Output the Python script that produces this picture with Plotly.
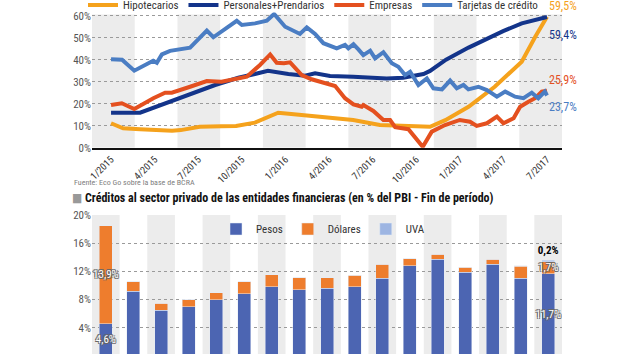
import plotly.graph_objects as go

FONT = "Liberation Sans Narrow, Roboto Condensed, DejaVu Sans Condensed, Arial Narrow, sans-serif"

# ---------------- Top chart data (x = months since 1/2015) ----------------
month_ticks = [0, 3, 6, 9, 12, 15, 18, 21, 24, 27, 30]
month_labels = ["1/2015", "4/2015", "7/2015", "10/2015", "1/2016", "4/2016",
                "7/2016", "10/2016", "1/2017", "4/2017", "7/2017"]

hip_x = [0, 0.83, 2.0, 4.2, 4.8, 6.1, 7.6, 8.6, 9.9, 11.5, 12.4, 14.0, 16.66, 18.5,
         20.1, 21.95, 23.0, 24.6, 26.4, 28.26, 29.2, 30]
hip_y = [11.1, 8.8, 8.4, 7.7, 8.0, 9.5, 9.7, 9.9, 11.4, 15.9, 15.3, 14.4, 12.6, 10.3,
         9.9, 9.5, 12.5, 18.6, 27.7, 39.1, 50.5, 59.5]

per_x = [0, 2.0, 7.16, 7.6, 8.76, 9.9, 10.8, 12.2, 13.35, 14.04, 15.07, 16.66, 18.97,
         20.1, 21.5, 21.95, 23.05, 24.6, 26.98, 28.26, 30]
per_y = [15.9, 15.9, 28.5, 29.5, 31.8, 33.5, 35.0, 33.5, 32.7, 33.8, 32.6, 32.3, 31.5,
         31.8, 33.5, 34.9, 40.0, 45.5, 53.0, 56.5, 59.4]

emp_x = [0, 0.74, 1.6, 2.91, 3.72, 4.18, 5.44, 6.59, 7.6, 8.76, 9.34, 10.25, 10.95,
         11.4, 11.9, 12.32, 13.12, 13.8, 14.5, 15.07, 15.42, 16.1, 16.68, 17.25, 17.36,
         18.05, 18.74, 19.2, 19.55, 20.46, 21.45, 22.07, 22.98, 24.0, 24.7, 25.16,
         25.86, 26.55, 27.0, 27.7, 28.15, 28.72, 29.18, 29.64, 30]
emp_y = [19.4, 20.2, 17.6, 22.5, 25.0, 25.0, 27.7, 30.3, 30.0, 31.5, 32.3, 37.6, 42.4,
         38.6, 38.4, 38.8, 33.0, 31.1, 29.7, 28.5, 28.0, 22.5, 19.7, 18.6, 19.4,
         16.7, 12.6, 12.6, 9.3, 8.4, 0.4, 7.3, 10.3, 12.6, 11.8, 9.9,
         11.1, 14.1, 11.1, 13.4, 18.6, 20.9, 22.5, 25.5, 25.9]

tar_x = [0, 0.76, 1.6, 2.9, 3.15, 3.5, 4.06, 5.44, 6.59, 7.04, 8.65, 9.0, 9.91, 10.72,
         11.22, 11.98, 13.0, 13.47, 14.04, 14.61, 15.53, 16.1, 16.33, 16.68, 17.02,
         17.36, 17.83, 18.17, 18.74, 19.32, 19.77, 20.23, 20.58, 21.15, 21.73, 22.18,
         22.77, 23.33, 23.79, 24.25, 24.59, 25.28, 25.86, 26.55, 27.12, 27.8, 28.38,
         28.95, 29.4, 29.85, 30]
tar_y = [40.2, 40.0, 35.0, 39.5, 38.6, 42.4, 44.0, 45.5, 53.2, 50.2, 57.7, 55.8, 56.5,
         57.7, 60.8, 55.0, 51.7, 54.7, 51.7, 47.5, 45.2, 46.7, 45.2, 47.0, 44.7,
         42.1, 44.1, 40.6, 43.4, 38.4, 36.8, 33.0, 34.5, 28.5, 31.5, 27.0,
         26.5, 30.5, 27.0, 28.5, 26.5, 27.7, 26.2, 23.2, 25.5, 23.2, 22.5,
         25.0, 22.5, 25.5, 23.7]

# ---------------- Bottom chart data ----------------
bar_cats = ["2001", "2002", "2003", "2004", "2005", "2006", "2007", "2008", "2009",
            "2010", "2011", "2012", "2013", "2014", "2015", "2016", "Jul-17"]
pesos = [4.6, 9.2, 6.5, 7.0, 8.0, 8.8, 9.8, 9.4, 9.6, 9.8, 11.0, 12.8, 13.7, 11.9, 13.0, 11.0, 11.7]
dolares = [13.9, 1.3, 1.0, 1.0, 1.0, 1.7, 1.7, 1.7, 1.5, 1.65, 2.0, 1.0, 0.7, 0.7, 0.7, 1.7, 1.7]
uva = [0, 0, 0, 0, 0, 0, 0, 0, 0, 0, 0, 0, 0, 0, 0, 0.1, 0.2]

C_HIP = "#F5A21C"
C_PER = "#13348A"
C_EMP = "#E4501F"
C_TAR = "#4A7DC3"
C_PES = "#4C65B2"
C_DOL = "#EE7D2D"
C_UVA = "#9DB5E2"
BAND = "#ECECEC"


def fmt(v):
    return f"{v:.1f}".replace(".", ",") + "%"


fig = go.Figure()
for name, xs, ys, col in [("Hipotecarios", hip_x, hip_y, C_HIP),
                          ("Personales+Prendarios", per_x, per_y, C_PER),
                          ("Empresas", emp_x, emp_y, C_EMP),
                          ("Tarjetas de crédito", tar_x, tar_y, C_TAR)]:
    fig.add_trace(go.Scatter(x=xs, y=ys, mode="lines", name=name,
                             line=dict(color=col, width=4), xaxis="x", yaxis="y",
                             legend="legend", hoverinfo="skip"))

shadow = "-1px -1px 0 #666, 1px -1px 0 #666, -1px 1px 0 #666, 1px 1px 0 #666"
last = len(bar_cats) - 1
pes_text = [fmt(v) if i in (0, last) else "" for i, v in enumerate(pesos)]
dol_text = [fmt(v) if i in (0, last) else "" for i, v in enumerate(dolares)]
uva_text = [fmt(v) if i == last else "" for i, v in enumerate(uva)]

fig.add_trace(go.Bar(x=bar_cats, y=pesos, name="Pesos", marker_color=C_PES,
                     xaxis="x2", yaxis="y2", legend="legend2", width=0.47,
                     text=pes_text, textposition="inside", insidetextanchor="middle",
                     textangle=0, constraintext="none",
                     textfont=dict(color="white", size=11, family=FONT, shadow=shadow)))
fig.add_trace(go.Bar(x=bar_cats, y=dolares, name="Dólares", marker_color=C_DOL,
                     xaxis="x2", yaxis="y2", legend="legend2", width=0.47,
                     text=dol_text, textposition="inside", insidetextanchor="middle",
                     textangle=0, constraintext="none",
                     textfont=dict(color="white", size=11, family=FONT, shadow=shadow)))
fig.add_trace(go.Bar(x=bar_cats, y=uva, name="UVA", marker_color=C_UVA,
                     xaxis="x2", yaxis="y2", legend="legend2", width=0.47,
                     text=uva_text, textposition="outside", textangle=0,
                     constraintext="none", cliponaxis=False,
                     textfont=dict(color="black", size=11, family=FONT, weight="bold")))

shapes = []
for k in range(0, 11, 2):
    shapes.append(dict(type="rect", xref="x domain", yref="y", x0=k / 11, x1=(k + 1) / 11,
                       y0=0, y1=60.6, fillcolor=BAND, line_width=0, layer="below"))
for i in range(0, len(bar_cats), 2):
    shapes.append(dict(type="rect", xref="x2", yref="y2", x0=i - 0.5, x1=i + 0.5,
                       y0=0, y1=20.2, fillcolor=BAND, line_width=0, layer="below"))

annotations = []
for ys, col, ysh in [(hip_y, C_HIP, 11), (per_y, C_PER, -18), (emp_y, C_EMP, 11), (tar_y, C_TAR, -11)]:
    annotations.append(dict(x=30, y=ys[-1], xref="x", yref="y", text=fmt(ys[-1]),
                            showarrow=False, xanchor="left", xshift=0, yshift=ysh,
                            font=dict(family=FONT, size=12, color=col)))
annotations.append(dict(x=72 / 630, y=(354 - 183) / 354, xref="paper", yref="paper",
                        text="Fuente: Eco Go sobre la base de BCRA", showarrow=False,
                        xanchor="left", yanchor="middle",
                        font=dict(family=FONT, size=8, color="#808080")))
annotations.append(dict(x=70 / 630, y=(354 - 198) / 354, xref="paper", yref="paper",
                        text="<span style='color:#999'>■</span> <b>Créditos al sector privado de las entidades financieras (en % del PBI - Fin de período)</b>",
                        showarrow=False, xanchor="left", yanchor="middle",
                        font=dict(family=FONT, size=12, color="#111")))

grid = dict(showgrid=True, gridcolor="#9a9a9a", griddash="dot", gridwidth=1.3,
            zeroline=False, ticks="", tickfont=dict(family=FONT, size=11, color="#555"))

fig.update_layout(
    width=630, height=354, margin=dict(l=0, r=0, t=0, b=0, autoexpand=False),
    paper_bgcolor="white", plot_bgcolor="white", barmode="stack",
    font=dict(family=FONT, color="#333"),
    showlegend=True,
    xaxis=dict(domain=[92 / 630, 562 / 630], range=[-1.31, 31.03], tickvals=month_ticks,
               ticktext=month_labels, tickangle=-45, showgrid=False, zeroline=False,
               showline=True, linecolor="#111", linewidth=2, ticks="", anchor="y",
               tickfont=dict(family=FONT, size=10, color="#333")),
    yaxis=dict(domain=[(354 - 147.7) / 354, (354 - 12.4) / 354], range=[0, 61.5],
               tickvals=[0, 10, 20, 30, 40, 50, 60],
               ticktext=["0%", "10%", "20%", "30%", "40%", "50%", "60%"], anchor="x", **grid),
    xaxis2=dict(domain=[92 / 630, 562 / 630], range=[-0.5, len(bar_cats) - 0.5],
                type="category", showticklabels=False, showgrid=False, zeroline=False,
                showline=False, ticks="", anchor="y2"),
    yaxis2=dict(domain=[0, (354 - 215) / 354], range=[0.28, 20],
                tickvals=[4, 8, 12, 16, 20], ticktext=["4%", "8%", "12%", "16%", "20%"],
                anchor="x2", **grid),
    legend=dict(orientation="h", x=83 / 630, y=(354 - 5) / 354, xanchor="left",
                yanchor="middle", bgcolor="rgba(0,0,0,0)",
                font=dict(family=FONT, size=11, color="#333"),
                itemwidth=30, traceorder="normal"),
    legend2=dict(orientation="h", x=216 / 630, y=(354 - 229) / 354, xanchor="left",
                 yanchor="middle", bgcolor="rgba(0,0,0,0)", traceorder="normal",
                 font=dict(family=FONT, size=11, color="#333"), itemwidth=30),
    shapes=shapes, annotations=annotations,
)

fig.write_html("out.html")
